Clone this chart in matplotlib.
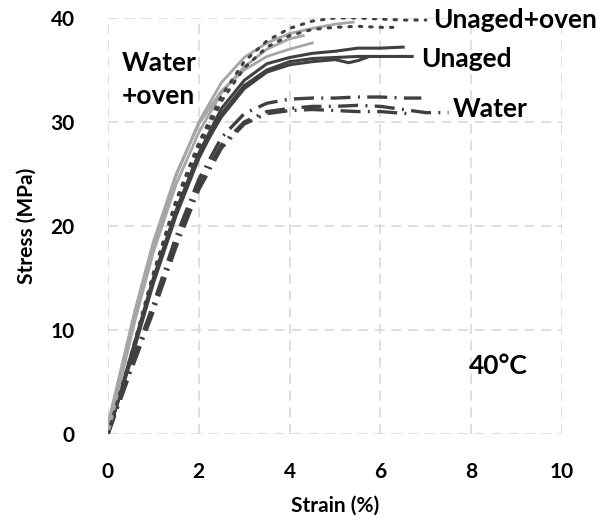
import matplotlib
matplotlib.use("Agg")
import matplotlib.pyplot as plt

# strain (%) / stress (MPa), 3 specimens per condition
unaged_oven = [
    ([0, 0.5, 1.0, 1.5, 2.0, 2.5, 3.0, 3.5, 4.0, 4.5, 5.0, 5.5, 6.0, 6.5, 7.0],
     [0, 7.5, 15.5, 22.5, 28.0, 32.5, 35.8, 37.8, 39.0, 39.7, 40.0, 40.0, 39.9, 39.8, 39.8]),
    ([0, 0.5, 1.0, 1.5, 2.0, 2.5, 3.0, 3.5, 4.0, 4.5, 5.0, 5.5, 6.0, 6.4],
     [0, 7.2, 15.0, 22.0, 27.5, 32.0, 35.2, 37.2, 38.3, 38.9, 39.1, 39.2, 39.1, 39.1]),
]
water_oven = [
    ([0, 0.3, 0.6, 1.0, 1.5, 2.0, 2.5, 3.0, 3.5, 4.0, 4.5],
     [1.0, 6.5, 12.0, 18.5, 25.0, 29.8, 33.0, 35.0, 36.3, 37.0, 37.6]),
    ([0, 0.3, 0.6, 1.0, 1.5, 2.0, 2.5, 3.0, 3.5, 4.0, 4.5, 5.0, 5.4],
     [0.5, 6.0, 11.5, 18.0, 24.8, 30.0, 33.8, 36.2, 37.6, 38.5, 39.0, 39.4, 39.6]),
    ([0, 0.3, 0.6, 1.0, 1.5, 2.0, 2.5, 3.0, 3.5, 4.0, 4.3],
     [0, 5.5, 11.0, 17.5, 24.0, 29.0, 32.8, 35.3, 37.0, 38.0, 38.3]),
]
unaged = [
    ([0, 0.5, 1.0, 1.5, 2.0, 2.5, 3.0, 3.5, 4.0, 4.5, 5.0, 5.5, 6.0, 6.5],
     [0, 7.5, 15.0, 21.5, 27.0, 31.3, 34.0, 35.6, 36.2, 36.6, 36.8, 37.1, 37.1, 37.2]),
    ([0, 0.5, 1.0, 1.5, 2.0, 2.5, 3.0, 3.5, 4.0, 4.5, 5.0, 5.5, 6.0, 6.7],
     [0, 7.0, 14.5, 21.0, 26.5, 30.8, 33.5, 35.0, 35.8, 36.1, 36.2, 36.3, 36.3, 36.3]),
    ([0, 0.5, 1.0, 1.5, 2.0, 2.5, 3.0, 3.5, 4.0, 4.5, 5.0, 5.3, 5.5, 5.7],
     [0, 7.2, 14.8, 21.3, 26.8, 30.5, 33.2, 34.8, 35.5, 35.8, 36.0, 35.7, 35.9, 36.2]),
]
water = [
    ([0, 0.5, 1.0, 1.5, 2.0, 2.5, 3.0, 3.5, 4.0, 4.5, 5.0, 5.5, 6.0, 6.5, 6.9],
     [0, 6.5, 12.5, 19.0, 24.5, 28.5, 30.8, 31.8, 32.2, 32.3, 32.3, 32.4, 32.4, 32.3, 32.3]),
    ([0, 0.5, 1.0, 1.5, 2.0, 2.5, 3.0, 3.5, 4.0, 4.5, 5.0, 5.5, 6.0, 6.5, 7.0, 7.5],
     [0, 6.2, 12.0, 18.5, 24.0, 27.8, 30.0, 31.0, 31.3, 31.5, 31.5, 31.6, 31.5, 31.2, 30.9, 30.9]),
    ([0, 0.5, 1.0, 1.5, 2.0, 2.5, 3.0, 3.5, 4.0, 4.5, 5.0, 5.5, 6.0, 6.6],
     [0, 6.0, 11.8, 18.0, 23.5, 27.5, 29.8, 30.8, 31.1, 31.2, 31.1, 31.0, 31.0, 30.8]),
]

x_ticks = [0, 2, 4, 6, 8, 10]
y_ticks = [0, 10, 20, 30, 40]

dark = "#404040"
gray = "#a6a6a6"
font = ["Lato", "DejaVu Sans"]

fig = plt.figure(figsize=(6.05, 5.21), dpi=100)
ax = fig.add_axes([0.1785, 0.167, 0.7505, 0.7985])

for x, y in water:
    ax.plot(x, y, color=dark, lw=2.4, dashes=(6, 2.2, 0.6, 2.2), solid_capstyle="round")
for x, y in unaged:
    ax.plot(x, y, color=dark, lw=2.2)
for x, y in water_oven:
    ax.plot(x, y, color=gray, lw=2.0)
for x, y in unaged_oven:
    ax.plot(x, y, color=dark, lw=2.2, dashes=(0.8, 2.6), dash_capstyle="round")

ax.set_xlim(0, 10)
ax.set_ylim(0, 40)
ax.set_xticks(x_ticks)
ax.set_yticks(y_ticks)
ax.grid(True, color="#d9d9d9", ls=(0, (6, 4)), lw=1.2)
ax.set_axisbelow(True)
for s in ax.spines.values():
    s.set_visible(False)
ax.tick_params(axis="x", length=0, pad=20)
ax.tick_params(axis="y", length=0, pad=24)
for lab in ax.get_xticklabels() + ax.get_yticklabels():
    lab.set_fontfamily(font)
    lab.set_fontweight("bold")
    lab.set_fontsize(15)
ax.set_xlabel("Strain (%)", family=font, weight="bold", fontsize=15, labelpad=10)
ax.set_ylabel("Stress (MPa)", family=font, weight="bold", fontsize=15, labelpad=10)

tk = dict(family=font, weight="bold", fontsize=19, color="black")
ax.text(7.15, 39.8, "Unaged+oven", va="center", ha="left", **tk)
ax.text(6.9, 36.1, "Unaged", va="center", ha="left", **tk)
ax.text(7.6, 31.2, "Water", va="center", ha="left", **tk)
ax.text(0.3, 34.1, "Water\n+oven", va="center", ha="left", linespacing=1.45, **tk)
ax.text(8.6, 6.5, "40°C", va="center", ha="center", **tk)

fig.savefig("out.png", dpi=100)
